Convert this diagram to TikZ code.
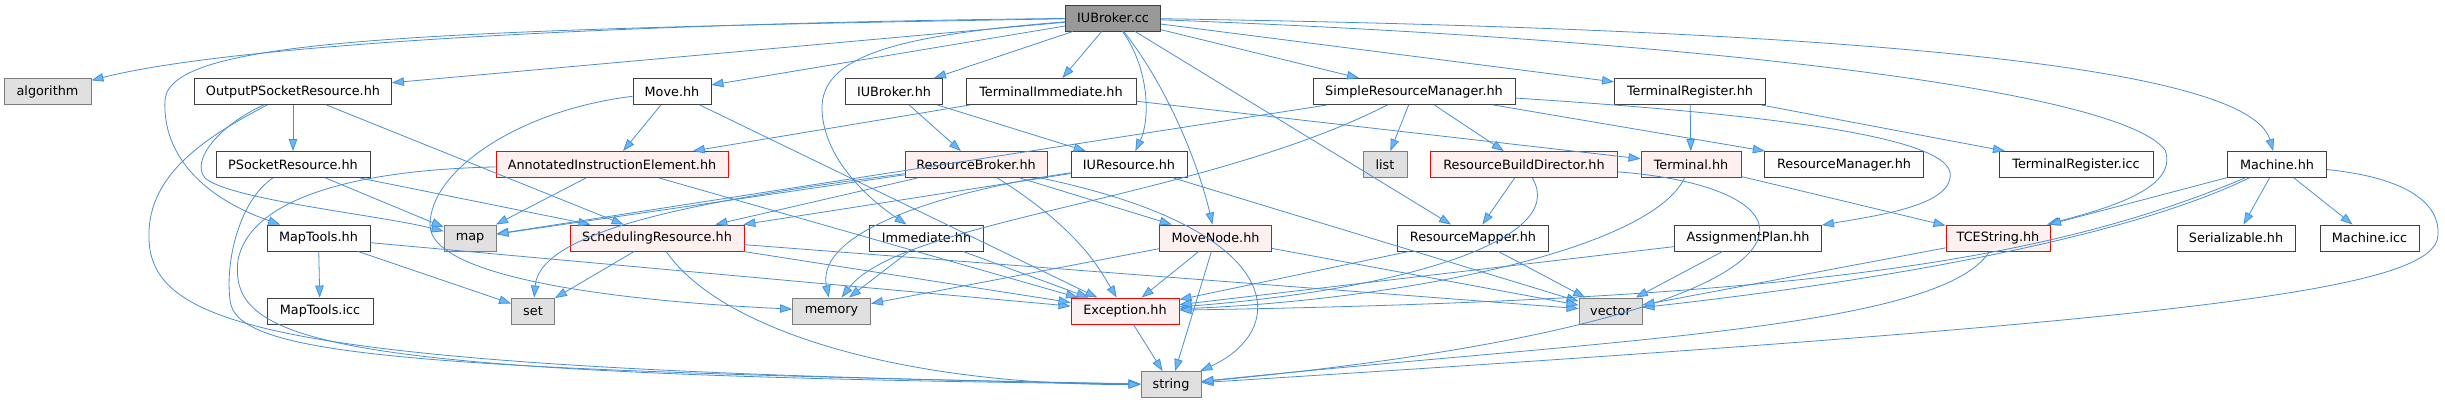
\documentclass[tikz,border=0pt]{standalone}
\usepackage{fontspec}
\setmainfont{DejaVu Sans}
\usepackage{xcolor}
\definecolor{dxedge}{RGB}{72,142,212}
\definecolor{dxhead}{RGB}{99,184,255}
\definecolor{dxborder}{RGB}{64,64,64}
\definecolor{dxfill}{RGB}{252,253,252}
\definecolor{dxsysfill}{RGB}{224,224,224}
\definecolor{dxsysborder}{RGB}{125,125,125}
\definecolor{dxroot}{RGB}{153,153,153}
\definecolor{dxredfill}{RGB}{255,240,240}
\usepackage{tikz}
\usetikzlibrary{arrows.meta}

\tikzset{
  hdr/.style={draw=dxborder, fill=dxfill, line width=0.9pt, minimum height=26pt, inner sep=0pt, font=\fontsize{12.8}{14}\selectfont},
  hdrred/.style={hdr, draw=red},
  hdrred/.append style={fill=dxredfill},
  sysfile/.style={hdr, draw=dxsysborder, fill=dxsysfill},
  rootfile/.style={hdr, fill=dxroot},
  dep/.style={draw=dxedge, line width=0.8pt, -{Triangle[length=12pt,width=8.5pt,fill=dxhead]}}
}

\begin{document}
\begin{tikzpicture}[x=1pt,y=-1pt]
  \useasboundingbox (0,0) rectangle (2445,403);

  % --- Row 1: the source file ---
  \node[rootfile, minimum width=95pt] (root) at (1113,18) {IUBroker.cc};

  % --- Row 2 ---
  \node[sysfile, minimum width=87pt]  (algo)    at (47.5,91.5) {algorithm};
  \node[hdr, minimum width=197pt]     (opsr)    at (293,91.5)  {OutputPSocketResource.hh};
  \node[hdr, minimum width=78pt]      (move)    at (672,91.5)  {Move.hh};
  \node[hdr, minimum width=97pt]      (iubh)    at (894,91.5)  {IUBroker.hh};
  \node[hdr, minimum width=170pt]     (termimm) at (1051,91.5) {TerminalImmediate.hh};
  \node[hdr, minimum width=202pt]     (srm)     at (1414,91.5) {SimpleResourceManager.hh};
  \node[hdr, minimum width=151pt]     (treg)    at (1690,91.5) {TerminalRegister.hh};

  % --- Row 3 ---
  \node[hdr, minimum width=154pt]     (psr)     at (293,164.5)  {PSocketResource.hh};
  \node[hdrred, minimum width=232pt]  (aie)     at (612,164.5)  {AnnotatedInstructionElement.hh};
  \node[hdrred, minimum width=142pt]  (rb)      at (976,164.5)  {ResourceBroker.hh};
  \node[hdr, minimum width=116pt]     (iur)     at (1129,164.5) {IUResource.hh};
  \node[sysfile, minimum width=44pt]  (list)    at (1385,164.5) {list};
  \node[hdrred, minimum width=187pt]  (rbd)     at (1524,164.5) {ResourceBuildDirector.hh};
  \node[hdrred, minimum width=100pt]  (term)    at (1691,164.5) {Terminal.hh};
  \node[hdr, minimum width=159pt]     (rm)      at (1844,164.5) {ResourceManager.hh};
  \node[hdr, minimum width=154pt]     (tregicc) at (2076,164.5) {TerminalRegister.icc};
  \node[hdr, minimum width=99pt]      (mach)    at (2277,164.5) {Machine.hh};

  % --- Row 4 ---
  \node[hdr, minimum width=103pt]     (maptools) at (318.5,238) {MapTools.hh};
  \node[sysfile, minimum width=52pt]  (map)      at (470,238)   {map};
  \node[hdrred, minimum width=174pt]  (sr)       at (657,238)   {SchedulingResource.hh};
  \node[hdr, minimum width=114pt]     (imm)      at (926.5,238) {Immediate.hh};
  \node[hdrred, minimum width=112pt]  (mn)       at (1215.5,238) {MoveNode.hh};
  \node[hdr, minimum width=151pt]     (rmap)     at (1473,238)  {ResourceMapper.hh};
  \node[hdr, minimum width=147pt]     (ap)       at (1748,238)  {AssignmentPlan.hh};
  \node[hdrred, minimum width=104pt]  (tces)     at (1998,238)  {TCEString.hh};
  \node[hdr, minimum width=118pt]     (ser)      at (2236,238)  {Serializable.hh};
  \node[hdr, minimum width=99pt]      (machicc)  at (2369.5,238) {Machine.icc};

  % --- Row 5 ---
  \node[hdr, minimum width=106pt]     (mticc)  at (320,311)    {MapTools.icc};
  \node[sysfile, minimum width=43pt]  (set)    at (533,311)    {set};
  \node[sysfile, minimum width=78pt]  (memory) at (831.5,311)  {memory};
  \node[hdrred, minimum width=108pt]  (exc)    at (1125,311)   {Exception.hh};
  \node[sysfile, minimum width=63pt]  (vector) at (1610.5,311) {vector};

  % --- Row 6 ---
  \node[sysfile, minimum width=60pt]  (string) at (1171,384.5) {string};

  % --- Includes of IUBroker.cc ---
  \draw[dep] (root) .. controls (700,22) and (250,40) .. (algo);
  \draw[dep] (root) -- (opsr);
  \draw[dep] (root) -- (move);
  \draw[dep] (root) .. controls (400,30) and (170,40) .. (165,100) .. controls (162,160) and (210,200) .. (maptools);
  \draw[dep] (root) -- (iubh);
  \draw[dep] (root) -- (termimm);
  \draw[dep] (root) .. controls (900,35) and (820,55) .. (822,110) .. controls (824,160) and (870,200) .. (imm);
  \draw[dep] (root) .. controls (1150,70) and (1150,120) .. (iur);
  \draw[dep] (root) .. controls (1170,90) and (1200,170) .. (mn);
  \draw[dep] (root) -- (rmap);
  \draw[dep] (root) -- (srm);
  \draw[dep] (root) -- (treg);
  \draw[dep] (root) .. controls (1900,30) and (2250,70) .. (mach);
  \draw[dep] (root) .. controls (1700,40) and (2120,90) .. (2165,150) .. controls (2180,190) and (2100,210) .. (tces);

  % --- Row 2 headers ---
  \draw[dep] (opsr) -- (psr);
  \draw[dep] (opsr) -- (sr);
  \draw[dep] (opsr) .. controls (220,125) and (190,160) .. (205,178) .. controls (230,200) and (380,215) .. (map);
  \draw[dep] (opsr) .. controls (200,140) and (140,180) .. (150,250) .. controls (165,330) and (300,370) .. (string);
  \draw[dep] (move) -- (aie);
  \draw[dep] (move) .. controls (520,110) and (430,170) .. (430,225) .. controls (430,275) and (600,300) .. (memory);
  \draw[dep] (move) -- (exc);
  \draw[dep] (iubh) -- (rb);
  \draw[dep] (iubh) -- (iur);
  \draw[dep] (termimm) -- (aie);
  \draw[dep] (termimm) -- (term);
  \draw[dep] (srm) -- (map);
  \draw[dep] (srm) -- (list);
  \draw[dep] (srm) -- (rbd);
  \draw[dep] (srm) -- (rm);
  \draw[dep] (srm) .. controls (1200,200) and (900,220) .. (memory);
  \draw[dep] (srm) .. controls (1700,110) and (1940,130) .. (1950,172) .. controls (1955,205) and (1880,215) .. (ap);
  \draw[dep] (treg) -- (term);
  \draw[dep] (treg) -- (tregicc);

  % --- Row 3 headers ---
  \draw[dep] (psr) -- (map);
  \draw[dep] (psr) -- (sr);
  \draw[dep] (psr) .. controls (240,200) and (225,260) .. (230,300) .. controls (235,355) and (400,370) .. (string);
  \draw[dep] (aie) -- (map);
  \draw[dep] (aie) .. controls (350,170) and (250,200) .. (238,260) .. controls (228,345) and (330,375) .. (string);
  \draw[dep] (aie) -- (exc);
  \draw[dep] (rb) -- (map);
  \draw[dep] (rb) -- (sr);
  \draw[dep] (rb) .. controls (700,200) and (540,230) .. (set);
  \draw[dep] (rb) -- (mn);
  \draw[dep] (rb) .. controls (1080,230) and (1100,270) .. (exc);
  \draw[dep] (rb) .. controls (1290,230) and (1290,330) .. (string);
  \draw[dep] (iur) -- (sr);
  \draw[dep] (iur) .. controls (950,190) and (815,230) .. (memory);
  \draw[dep] (iur) -- (vector);
  \draw[dep] (rbd) -- (rmap);
  \draw[dep] (rbd) .. controls (1570,240) and (1400,290) .. (exc);
  \draw[dep] (rbd) .. controls (1850,190) and (1850,320) .. (string);
  \draw[dep] (term) -- (tces);
  \draw[dep] (term) .. controls (1650,250) and (1400,300) .. (exc);
  \draw[dep] (mach) -- (tces);
  \draw[dep] (mach) -- (ser);
  \draw[dep] (mach) -- (machicc);
  \draw[dep] (mach) .. controls (2050,260) and (1800,300) .. (exc);
  \draw[dep] (mach) .. controls (2100,250) and (1800,290) .. (vector);
  \draw[dep] (mach) .. controls (2410,178) and (2440,205) .. (2438,235) .. controls (2436,290) and (2200,320) .. (string);

  % --- Row 4 headers ---
  \draw[dep] (maptools) -- (mticc);
  \draw[dep] (maptools) -- (set);
  \draw[dep] (maptools) -- (exc);
  \draw[dep] (sr) -- (set);
  \draw[dep] (sr) -- (exc);
  \draw[dep] (sr) -- (vector);
  \draw[dep] (sr) .. controls (720,330) and (900,385) .. (string);
  \draw[dep] (imm) -- (memory);
  \draw[dep] (imm) -- (exc);
  \draw[dep] (mn) -- (memory);
  \draw[dep] (mn) -- (exc);
  \draw[dep] (mn) -- (string);
  \draw[dep] (mn) -- (vector);
  \draw[dep] (rmap) -- (exc);
  \draw[dep] (rmap) -- (vector);
  \draw[dep] (ap) -- (exc);
  \draw[dep] (ap) -- (vector);
  \draw[dep] (tces) -- (vector);
  \draw[dep] (tces) .. controls (1940,330) and (1600,340) .. (string);

  % --- Row 5 headers ---
  \draw[dep] (exc) -- (string);
\end{tikzpicture}
\end{document}
